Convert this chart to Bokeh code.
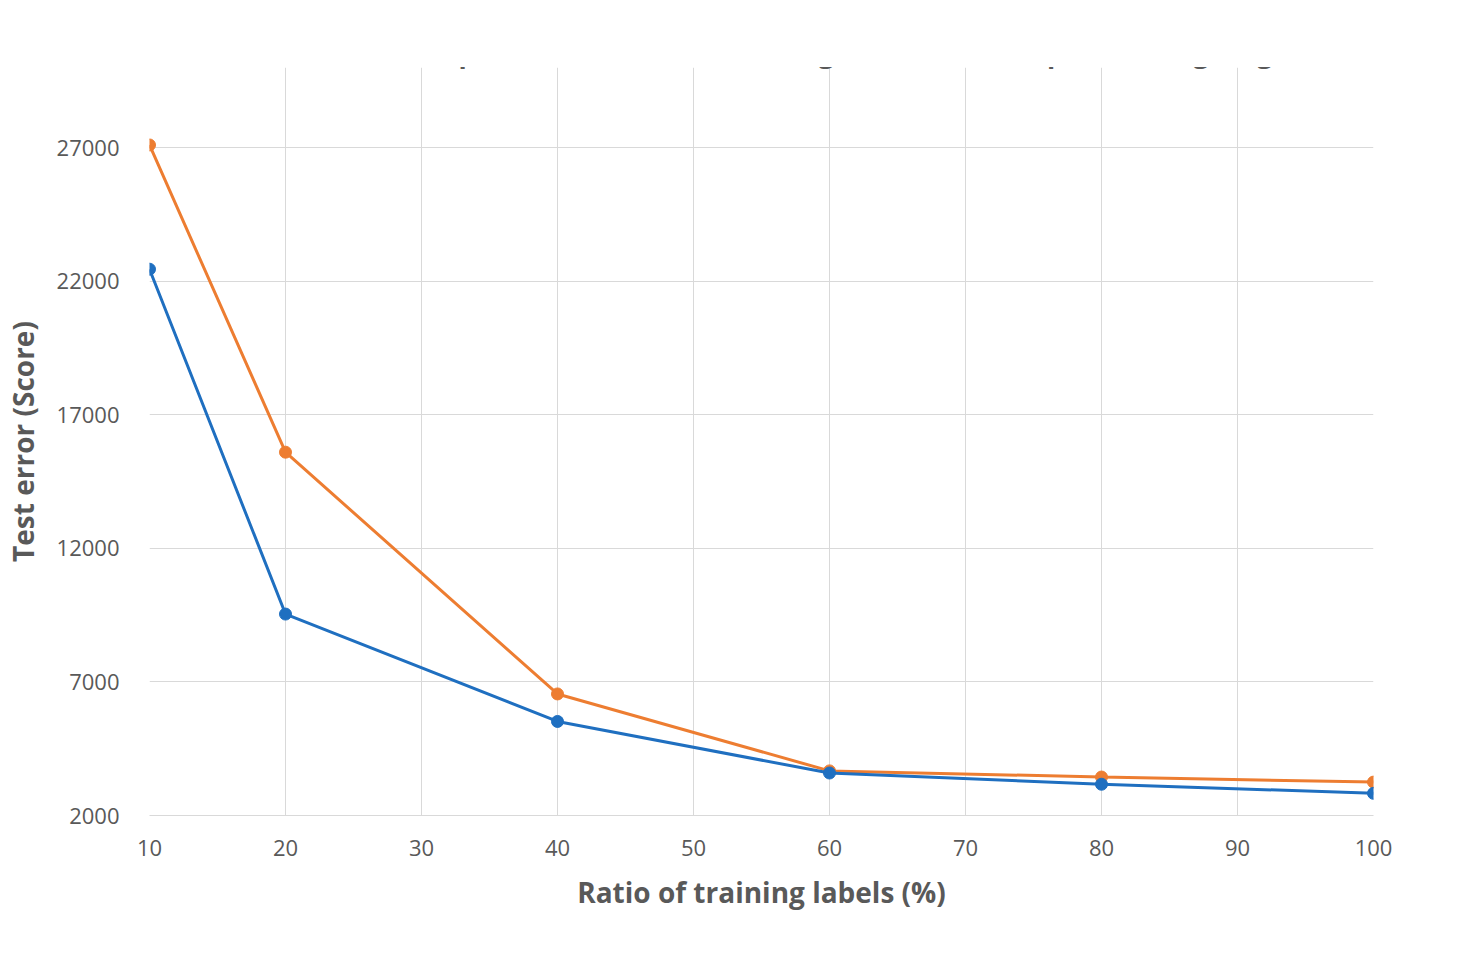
from bokeh.plotting import figure
from bokeh.models import Legend, LegendItem, Label, FixedTicker
from bokeh.embed import file_html
from bokeh.resources import INLINE

ratios = [10, 20, 40, 60, 80, 100]
supervised = [27100, 15600, 6550, 3670, 3440, 3250]
semi = [22450, 9540, 5520, 3590, 3170, 2830]
x_ticks = [10, 20, 30, 40, 50, 60, 70, 80, 90, 100]
y_ticks = [2000, 7000, 12000, 17000, 22000, 27000]

p = figure(width=1460, height=950, output_backend="svg", toolbar_location=None,
           x_range=(10, 100), y_range=(2000, 30000),
           min_border_left=147, min_border_right=87, min_border_top=67, min_border_bottom=135)
p.outline_line_color = None
p.background_fill_color = "white"
font = "Open Sans"
grey = "#595959"
for ax in (p.xaxis, p.yaxis):
    ax.major_label_text_font = font
    ax.major_label_text_font_size = "22px"
    ax.major_label_text_color = grey
    ax.axis_label_text_font = font
    ax.axis_label_text_font_size = "28px"
    ax.axis_label_text_font_style = "bold"
    ax.axis_label_text_color = grey
    ax.major_tick_line_color = None
    ax.minor_tick_line_color = None
p.xaxis.ticker = FixedTicker(ticks=x_ticks)
p.yaxis.ticker = FixedTicker(ticks=y_ticks)
p.xaxis.axis_label = "Ratio of training labels (%)"
p.yaxis.axis_label = "Test error (Score)"
p.xaxis.major_label_standoff = 18
p.yaxis.major_label_standoff = 24
p.xaxis.axis_label_standoff = 14
p.yaxis.axis_label_standoff = 12
p.xaxis.axis_line_color = "#d9d9d9"
p.yaxis.axis_line_color = None
p.grid.grid_line_color = "#d9d9d9"

l1 = p.line(ratios, supervised, line_color="#ED7D31", line_width=3)
c1 = p.scatter(ratios, supervised, size=12, color="#ED7D31")
l2 = p.line(ratios, semi, line_color="#1F6FC0", line_width=3)
c2 = p.scatter(ratios, semi, size=12, color="#1F6FC0")

legend = Legend(items=[LegendItem(label="Supervised", renderers=[l1, c1]),
                       LegendItem(label="Semi-supervised with 100% training features in the pre-training stage", renderers=[l2, c2])],
                orientation="horizontal", location=(-87, 744),
                label_text_font=font, label_text_font_size="27px", label_text_font_style="bold",
                label_text_color=grey, border_line_color=None, background_fill_alpha=0,
                spacing=55, glyph_width=40, margin=0, padding=10, label_standoff=4)
p.add_layout(legend)

cap_y = -137
p.add_layout(Label(x=103, y=cap_y, x_units="screen", y_units="screen",
                   text="Fig. 6.", text_font="Liberation Serif", text_font_style="bold",
                   text_font_size="20px"))
p.add_layout(Label(x=167, y=cap_y, x_units="screen", y_units="screen",
                   text="S", text_font="Liberation Serif", text_font_style="italic",
                   text_font_size="20px"))
p.add_layout(Label(x=185, y=cap_y, x_units="screen", y_units="screen",
                   text="comparison on subset FD004 when the labeled training data is reduced from 100% to 10%.",
                   text_font="Liberation Serif", text_font_size="20px"))

open("out.html", "w").write(file_html(p, INLINE))
